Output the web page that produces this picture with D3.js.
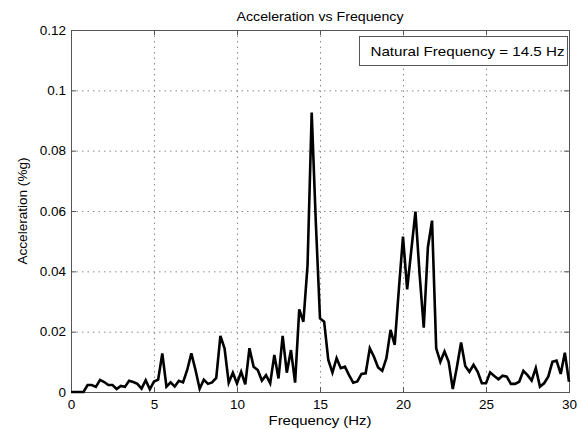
<!DOCTYPE html>
<html>
<head>
<meta charset="utf-8">
<script src="https://cdn.jsdelivr.net/npm/d3@7"></script>
<style>
  body { margin: 0; background: #fff; }
  svg { display: block; font-family: "Liberation Sans", Arial, sans-serif; }
</style>
</head>
<body>
<svg id="chart" width="581" height="429"></svg>
<script>
const title = "Acceleration vs Frequency";
const xLabel = "Frequency (Hz)";
const yLabel = "Acceleration (%g)";
const legendText = "Natural Frequency = 14.5 Hz";

const frequency = [
  0, 0.25, 0.5, 0.75, 1, 1.25, 1.5, 1.75, 2, 2.25, 2.5, 2.75, 3, 3.25, 3.5, 3.75,
  4, 4.25, 4.5, 4.75, 5, 5.25, 5.5, 5.75, 6, 6.25, 6.5, 6.75, 7, 7.25, 7.5, 7.75,
  8, 8.25, 8.5, 8.75, 9, 9.25, 9.5, 9.75, 10, 10.25, 10.5, 10.75, 11, 11.25, 11.5, 11.75,
  12, 12.25, 12.5, 12.75, 13, 13.25, 13.5, 13.75, 14, 14.25, 14.5, 14.75, 15, 15.25, 15.5, 15.75,
  16, 16.25, 16.5, 16.75, 17, 17.25, 17.5, 17.75, 18, 18.25, 18.5, 18.75, 19, 19.25, 19.5, 19.75,
  20, 20.25, 20.5, 20.75, 21, 21.25, 21.5, 21.75, 22, 22.25, 22.5, 22.75, 23, 23.25, 23.5, 23.75,
  24, 24.25, 24.5, 24.75, 25, 25.25, 25.5, 25.75, 26, 26.25, 26.5, 26.75, 27, 27.25, 27.5, 27.75,
  28, 28.25, 28.5, 28.75, 29, 29.25, 29.5, 29.75, 30
];

const acceleration = [
  0, 0, 0, 0, 0.0023, 0.0023, 0.0017, 0.0040, 0.0033, 0.0023, 0.0023, 0.0010, 0.0020, 0.0017, 0.0037, 0.0033,
  0.0027, 0.0011, 0.0039, 0.0009, 0.0035, 0.0041, 0.0128, 0.0018, 0.0032, 0.0018, 0.0037, 0.0032, 0.0073, 0.0128, 0.0073, 0.0011,
  0.0041, 0.0027, 0.0032, 0.0047, 0.0186, 0.0145, 0.0031, 0.0064, 0.0028, 0.0067, 0.0025, 0.0145, 0.0084, 0.0073, 0.0038, 0.0056,
  0.0029, 0.0123, 0.0045, 0.0186, 0.0064, 0.0139, 0.0031, 0.0274, 0.0233, 0.0420, 0.0926, 0.0560, 0.0244, 0.0233, 0.0106, 0.0064,
  0.0112, 0.0079, 0.0084, 0.0056, 0.0031, 0.0035, 0.0060, 0.0062, 0.0145, 0.0117, 0.0081, 0.0070, 0.0112, 0.0206, 0.0156, 0.0340,
  0.0515, 0.0340, 0.0470, 0.0598, 0.0390, 0.0213, 0.0480, 0.0568, 0.0145, 0.0100, 0.0134, 0.0100, 0.0010, 0.0084, 0.0164, 0.0086,
  0.0067, 0.0090, 0.0067, 0.0029, 0.0029, 0.0065, 0.0053, 0.0042, 0.0054, 0.0051, 0.0027, 0.0027, 0.0034, 0.0070, 0.0056, 0.0038,
  0.0079, 0.0018, 0.0029, 0.0051, 0.0100, 0.0104, 0.0060, 0.0130, 0.0034
];

const xTicks = [0, 5, 10, 15, 20, 25, 30];
const yTicks = [0, 0.02, 0.04, 0.06, 0.08, 0.1, 0.12];
const yTickLabels = ["0", "0.02", "0.04", "0.06", "0.08", "0.1", "0.12"];

const svg = d3.select("#chart");
const mLeft = 71, mRight = 569, mTop = 30, mBottom = 392;

const x = d3.scaleLinear().domain([0, 30]).range([mLeft, mRight]);
const y = d3.scaleLinear().domain([0, 0.12]).range([mBottom, mTop]);

const frameColor = "#555";
const gridColor = "#8a8a8a";

// grid
const grid = svg.append("g");
grid.selectAll(".vg").data(xTicks.slice(1, -1)).enter().append("line")
  .attr("x1", d => x(d) + 0.5).attr("x2", d => x(d) + 0.5)
  .attr("y1", mTop).attr("y2", mBottom)
  .attr("stroke", gridColor).attr("stroke-width", 1).attr("stroke-dasharray", "1.5,4");
grid.selectAll(".hg").data(yTicks.slice(1, -1)).enter().append("line")
  .attr("x1", mLeft).attr("x2", mRight)
  .attr("y1", d => y(d) + 0.5).attr("y2", d => y(d) + 0.5)
  .attr("stroke", gridColor).attr("stroke-width", 1).attr("stroke-dasharray", "1.5,4");

// axes (bottom, left) with inward ticks
const xAxis = d3.axisBottom(x).tickValues(xTicks).tickSizeInner(-5).tickSizeOuter(0).tickPadding(7)
  .tickFormat(d3.format("d"));
const gx = svg.append("g").attr("transform", `translate(0,${mBottom})`).call(xAxis);
const yAxis = d3.axisLeft(y).tickValues(yTicks).tickSizeInner(-5).tickSizeOuter(0).tickPadding(5)
  .tickFormat((d, i) => yTickLabels[i]);
const gy = svg.append("g").attr("transform", `translate(${mLeft},0)`).call(yAxis);
// top and right mirrored ticks
const gxt = svg.append("g").attr("transform", `translate(0,${mTop})`)
  .call(d3.axisTop(x).tickValues(xTicks).tickSizeInner(-5).tickSizeOuter(0).tickFormat(""));
const gyr = svg.append("g").attr("transform", `translate(${mRight},0)`)
  .call(d3.axisRight(y).tickValues(yTicks).tickSizeInner(-5).tickSizeOuter(0).tickFormat(""));

[gx, gy, gxt, gyr].forEach(g => {
  g.select(".domain").remove();
  g.selectAll("line").attr("stroke", frameColor);
  g.selectAll("text").attr("font-size", 13.5).attr("fill", "#000")
    .attr("font-family", "'Liberation Sans', Arial, sans-serif");
});

// frame
svg.append("rect")
  .attr("x", mLeft + 0.5).attr("y", mTop + 0.5)
  .attr("width", mRight - mLeft).attr("height", mBottom - mTop)
  .attr("fill", "none").attr("stroke", frameColor).attr("stroke-width", 1);

// data line
const line = d3.line().x((d, i) => x(frequency[i])).y(d => y(d));
svg.append("path").datum(acceleration)
  .attr("d", line)
  .attr("fill", "none").attr("stroke", "#000").attr("stroke-width", 2.6)
  .attr("stroke-linejoin", "miter").attr("stroke-miterlimit", 4);

// legend box
const lg = svg.append("g");
lg.append("rect").attr("x", 359.5).attr("y", 36.5).attr("width", 208).attr("height", 29)
  .attr("fill", "#fff").attr("stroke", frameColor).attr("stroke-width", 1);
lg.append("text").attr("x", 370.5).attr("y", 55.5).attr("font-size", 13.5)
  .attr("textLength", 194).attr("lengthAdjust", "spacingAndGlyphs").text(legendText);

// title and labels
svg.append("text").attr("x", (mLeft + mRight) / 2).attr("y", 21).attr("text-anchor", "middle")
  .attr("font-size", 13.5).attr("textLength", 167).attr("lengthAdjust", "spacingAndGlyphs").text(title);
svg.append("text").attr("x", (mLeft + mRight) / 2).attr("y", 425).attr("text-anchor", "middle")
  .attr("font-size", 13.5).attr("textLength", 103).attr("lengthAdjust", "spacingAndGlyphs").text(xLabel);
svg.append("text").attr("transform", `translate(27,${(mTop + mBottom) / 2}) rotate(-90)`)
  .attr("text-anchor", "middle").attr("font-size", 13.5)
  .attr("textLength", 107).attr("lengthAdjust", "spacingAndGlyphs").text(yLabel);
</script>
</body>
</html>
